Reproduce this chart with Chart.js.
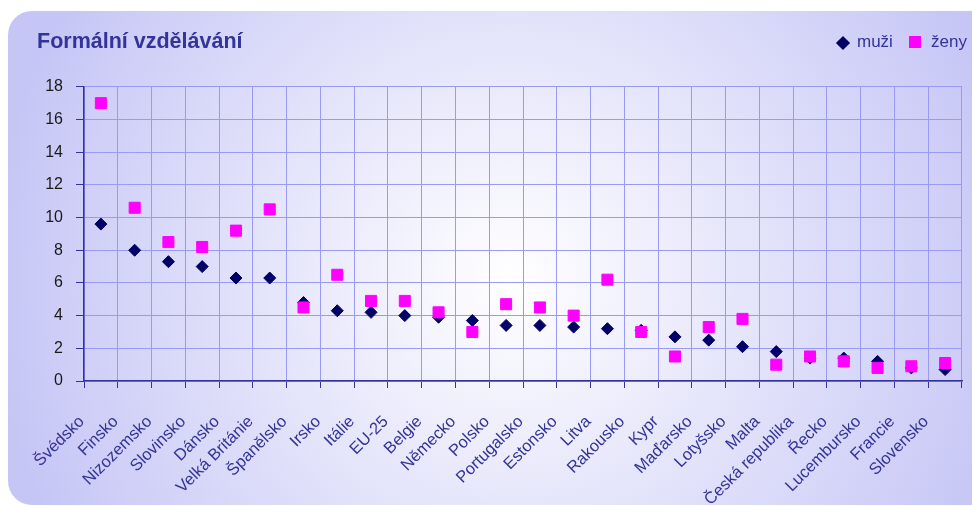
<!DOCTYPE html>
<html>
<head>
<meta charset="utf-8">
<script src="https://cdn.jsdelivr.net/npm/chart.js@4/dist/chart.umd.min.js"></script>
<style>
html, body { margin: 0; padding: 0; background: #fff; }
#wrap { position: relative; width: 972px; height: 506px; }
.lg { position: absolute; font: 17px "Liberation Sans", Arial, sans-serif; color: #333399; line-height: 18px; }
.mk { position: absolute; }
</style>
</head>
<body>
<div id="wrap">
	<canvas id="myChart" width="972" height="506"></canvas>
	<div class="mk" style="left:838px;top:38px;width:10px;height:10px;background:#000066;transform:rotate(45deg)"></div>
	<div class="lg" style="left:857px;top:33px">muži</div>
	<div class="mk" style="left:909px;top:36px;width:12px;height:12px;background:#ff00ff"></div>
	<div class="lg" style="left:931px;top:33px">ženy</div>
</div>
<script>
// data
const countries = ['Švédsko', 'Finsko', 'Nizozemsko', 'Slovinsko', 'Dánsko', 'Velká Británie', 'Španělsko', 'Irsko', 'Itálie', 'EU-25',
	'Belgie', 'Německo', 'Polsko', 'Portugalsko', 'Estonsko', 'Litva', 'Rakousko', 'Kypr', 'Maďarsko', 'Lotyšsko',
	'Malta', 'Česká republika', 'Řecko', 'Lucembursko', 'Francie', 'Slovensko'];
const muzi = [9.6, 8.0, 7.3, 7.0, 6.3, 6.3, 4.8, 4.3, 4.2, 4.0, 3.9, 3.7, 3.4, 3.4, 3.3, 3.2, 3.1, 2.7, 2.5, 2.1, 1.8, 1.4, 1.4, 1.2, 0.8, 0.7];
const zeny = [17.0, 10.6, 8.5, 8.2, 9.2, 10.5, 4.5, 6.5, 4.9, 4.9, 4.2, 3.0, 4.7, 4.5, 4.0, 6.2, 3.0, 1.5, 3.3, 3.8, 1.0, 1.5, 1.2, 0.8, 0.9, 1.1];
const yMin = 0, yMax = 18, yStep = 2;

// lavender panel with light centre, like the Excel chart area
const panelBg = {
	id: 'panelBg',
	beforeDraw(chart) {
		const ctx = chart.ctx;
		ctx.save();
		ctx.fillStyle = '#fff';
		ctx.fillRect(0, 0, chart.width, chart.height);
		const g = ctx.createRadialGradient(510, 280, 0, 510, 280, 520);
		g.addColorStop(0, '#ffffff');
		g.addColorStop(1, '#c6c6f6');
		ctx.fillStyle = g;
		ctx.beginPath();
		ctx.roundRect(8, 11, 990, 494, 24);
		ctx.fill();
		ctx.restore();
	}
};

const ctx = document.getElementById('myChart').getContext('2d');
const chart = new Chart(ctx, {
	type: 'line',
	data: {
		labels: countries,
		datasets: [{
			label: 'muži',
			data: muzi,
			showLine: false,
			pointStyle: 'rectRot',
			pointRadius: 6,
			pointHoverRadius: 6,
			backgroundColor: '#000066',
			borderColor: '#000066',
			borderWidth: 1,
			order: 1
		}, {
			label: 'ženy',
			data: zeny,
			showLine: false,
			pointStyle: 'rect',
			pointRadius: 7.8,
			pointHoverRadius: 7.8,
			backgroundColor: '#ff00ff',
			borderColor: '#ff00ff',
			borderWidth: 1,
			order: 0
		}]
	},
	options: {
		responsive: false,
		animation: false,
		layout: { padding: { left: 37, right: 10, top: 0, bottom: 0 } },
		plugins: {
			legend: { display: false },
			tooltip: { enabled: false },
			title: {
				display: true,
				text: 'Formální vzdělávání',
				align: 'start',
				color: '#333399',
				font: { family: '"Liberation Sans", Arial, sans-serif', size: 21.5, weight: 'bold', lineHeight: 1.2 },
				padding: { top: 29, bottom: 32 }
			}
		},
		scales: {
			x: {
				offset: true,
				grid: { offset: true, color: '#9a9af5', tickColor: '#333399', tickLength: 7 },
				border: { color: '#333399', width: 1.5 },
				ticks: {
					autoSkip: false,
					maxRotation: 45,
					minRotation: 45,
					color: '#333399',
					padding: 24,
					labelOffset: -19,
					font: { family: '"Liberation Sans", Arial, sans-serif', size: 16.5 }
				},
				afterFit(scale) {
					scale.height = 125;
					scale.paddingLeft = 0;
					scale.paddingRight = 0;
				}
			},
			y: {
				min: yMin,
				max: yMax,
				grid: { color: '#9a9af5', tickColor: '#333399', tickLength: 8 },
				border: { color: '#333399', width: 1.5 },
				ticks: {
					stepSize: yStep,
					color: '#1a1a1a',
					padding: 13,
					font: { family: '"Liberation Sans", Arial, sans-serif', size: 16 }
				},
				afterFit(scale) { scale.width = 47; }
			}
		}
	},
	plugins: [panelBg]
});
</script>
</body>
</html>
